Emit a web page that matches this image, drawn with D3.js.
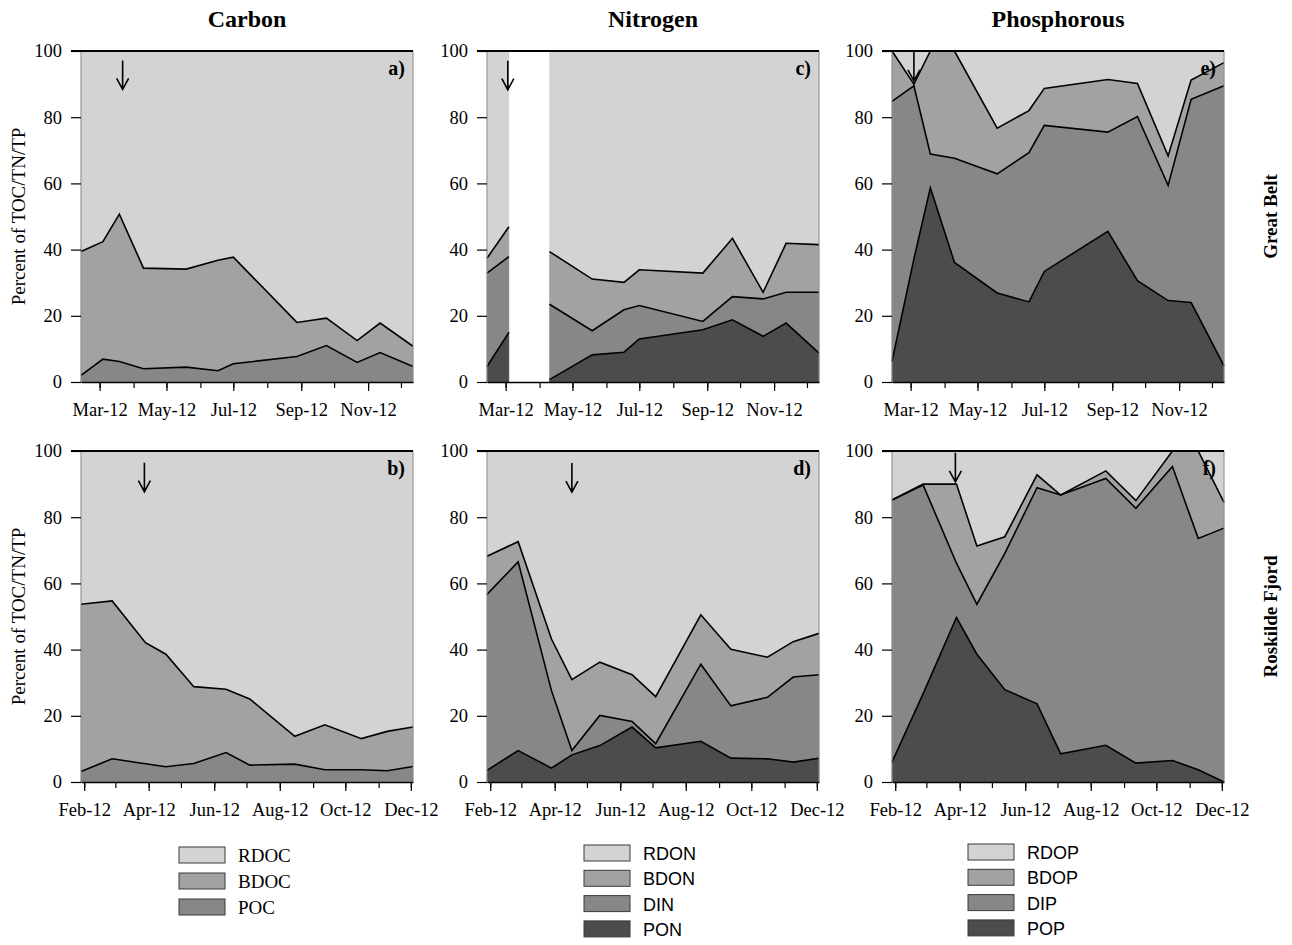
<!DOCTYPE html>
<html>
<head>
<meta charset="utf-8">
<script src="https://cdn.jsdelivr.net/npm/d3@7"></script>
<style>
  body { margin: 0; background: #fff; }
  svg { display: block; }
  .serif { font-family: "Liberation Serif", "Times New Roman", serif; }
  .sans { font-family: "Liberation Sans", Arial, sans-serif; }
</style>
</head>
<body>
<svg id="chart" width="1292" height="945"></svg>
<script>
// ---- Sampling dates -------------------------------------------------------
const greatBeltDates = ["2012-02-13", "2012-03-04", "2012-03-19", "2012-04-10", "2012-05-19", "2012-06-17",
                        "2012-07-01", "2012-08-28", "2012-09-24", "2012-10-22", "2012-11-12", "2012-12-12"];
const roskildeDates  = ["2012-01-29", "2012-02-27", "2012-03-29", "2012-04-17", "2012-05-13", "2012-06-12",
                        "2012-07-04", "2012-08-15", "2012-09-12", "2012-10-16", "2012-11-09", "2012-12-03"];

// ---- Great Belt: percent of TOC / TN / TP --------------------------------
const gbPOC  = [2.0, 6.9, 6.2, 4.0, 4.5, 3.4, 5.5, 7.7, 11.0, 5.9, 8.9, 4.7];
const gbBDOC = [37.4, 35.5, 44.5, 30.4, 29.6, 33.4, 32.2, 10.3, 8.3, 6.6, 8.9, 6.1];
const gbRDOC = [60.6, 57.6, 49.3, 65.6, 65.9, 63.2, 62.3, 82.0, 80.7, 87.5, 82.2, 89.2];

// the 19 March nitrogen sample is missing
const gbPON  = [4.7, 15.0, null, 0.7, 8.2, 9.0, 13.0, 15.8, 18.8, 13.8, 17.8, 8.7];
const gbDIN  = [28.2, 22.9, null, 22.8, 7.3, 12.8, 10.1, 2.5, 7.0, 11.3, 9.3, 18.4];
const gbBDON = [4.5, 9.0, null, 15.9, 15.6, 8.3, 10.8, 14.6, 17.6, 2.0, 14.8, 14.4];
const gbRDON = [62.6, 53.1, null, 60.6, 68.9, 69.9, 66.1, 67.1, 56.6, 72.9, 58.1, 58.5];

const gbPOP  = [6.2, 37.2, 58.7, 36.1, 26.9, 24.2, 33.4, 45.5, 30.6, 24.6, 24.0, 4.9];
const gbDIP  = [78.6, 52.3, 10.2, 31.5, 36.0, 45.1, 44.1, 30.0, 49.6, 34.8, 61.4, 84.6];
const gbBDOP = [15.2, 0.5, 31.1, 32.4, 13.8, 12.7, 11.2, 15.9, 10.0, 8.9, 5.8, 7.0];
const gbRDOP = [0.0, 10.0, 0.0, 0.0, 23.3, 18.0, 11.3, 8.6, 9.8, 31.7, 8.8, 3.5];

// ---- Roskilde Fjord -------------------------------------------------------
const rfPOC  = [3.2, 7.0, 5.5, 4.6, 5.6, 8.9, 5.1, 5.4, 3.7, 3.7, 3.4, 4.7];
const rfBDOC = [50.5, 47.7, 36.6, 34.0, 23.2, 19.1, 20.0, 8.4, 13.6, 9.4, 11.9, 11.9];
const rfRDOC = [46.3, 45.3, 57.9, 61.4, 71.2, 72.0, 74.9, 86.2, 82.7, 86.9, 84.7, 83.4];

const rfPON  = [3.5, 9.5, 4.2, 8.2, 11.0, 16.6, 10.3, 12.3, 7.2, 7.0, 6.0, 7.2];
const rfDIN  = [53.2, 57.0, 23.4, 1.3, 9.1, 1.7, 1.3, 23.3, 15.8, 18.6, 25.7, 25.2];
const rfBDON = [11.5, 6.1, 15.6, 21.4, 16.1, 14.1, 14.2, 14.9, 17.1, 12.1, 10.7, 12.5];
const rfRDON = [31.8, 27.4, 56.8, 69.1, 63.8, 67.6, 74.2, 49.5, 59.9, 62.3, 57.6, 55.1];

const rfPOP  = [6.0, 26.7, 49.7, 38.6, 27.9, 23.6, 8.5, 11.1, 5.7, 6.5, 3.7, 0.0];
const rfDIP  = [79.2, 63.0, 16.4, 15.1, 41.2, 65.3, 78.2, 80.6, 77.0, 88.8, 69.9, 76.7];
const rfBDOP = [0.0, 0.3, 23.9, 17.6, 5.0, 3.9, 0.0, 2.3, 2.3, 4.7, 26.4, 7.8];
const rfRDOP = [14.8, 10.0, 10.0, 28.7, 25.9, 7.2, 13.3, 6.0, 15.0, 0.0, 0.0, 15.5];

// ---- Event markers (date, percent value at arrow tip) ----------------------
const arrowDates = { a: "2012-03-22", c: "2012-03-03", e: "2012-03-04", b: "2012-03-28", d: "2012-04-17", f: "2012-03-28" };
const arrowTips  = { a: 88.4, c: 88.3, e: 91.0, b: 87.7, d: 87.6, f: 90.7 };

// ---- Labels -----------------------------------------------------------------
const columnTitles = ["Carbon", "Nitrogen", "Phosphorous"];
const rowTitles = ["Great Belt", "Roskilde Fjord"];
const yTicks = [0, 20, 40, 60, 80, 100];
const carbonLegend = ["RDOC", "BDOC", "POC"];
const nitrogenLegend = ["RDON", "BDON", "DIN", "PON"];
const phosphorusLegend = ["RDOP", "BDOP", "DIP", "POP"];

// ---- Styling ------------------------------------------------------------------
const shade = { rd: "#d3d3d3", bd: "#a2a2a2", inorg: "#878787", part: "#4c4c4c" };
const colX = [81, 487, 892];
const rowY = [51, 451];
const panelW = 332, panelH = 331;
const serifFamily = "'Liberation Serif','Times New Roman',serif";

const parse = d3.timeParse("%Y-%m-%d");
const fmt = d3.timeFormat("%b-%y");
const svg = d3.select("#chart");

const panels = [
  { id: "a", col: 0, row: 0, dates: greatBeltDates,
    series: [["POC", gbPOC, shade.inorg], ["BDOC", gbBDOC, shade.bd], ["RDOC", gbRDOC, shade.rd]] },
  { id: "c", col: 1, row: 0, dates: greatBeltDates,
    series: [["PON", gbPON, shade.part], ["DIN", gbDIN, shade.inorg], ["BDON", gbBDON, shade.bd], ["RDON", gbRDON, shade.rd]] },
  { id: "e", col: 2, row: 0, dates: greatBeltDates,
    series: [["POP", gbPOP, shade.part], ["DIP", gbDIP, shade.inorg], ["BDOP", gbBDOP, shade.bd], ["RDOP", gbRDOP, shade.rd]] },
  { id: "b", col: 0, row: 1, dates: roskildeDates,
    series: [["POC", rfPOC, shade.inorg], ["BDOC", rfBDOC, shade.bd], ["RDOC", rfRDOC, shade.rd]] },
  { id: "d", col: 1, row: 1, dates: roskildeDates,
    series: [["PON", rfPON, shade.part], ["DIN", rfDIN, shade.inorg], ["BDON", rfBDON, shade.bd], ["RDON", rfRDON, shade.rd]] },
  { id: "f", col: 2, row: 1, dates: roskildeDates,
    series: [["POP", rfPOP, shade.part], ["DIP", rfDIP, shade.inorg], ["BDOP", rfBDOP, shade.bd], ["RDOP", rfRDOP, shade.rd]] }
];

panels.forEach(p => {
  const dates = p.dates.map(parse);
  const keys = p.series.map(s => s[0]);
  const rows = dates.map((d, i) => {
    const r = { date: d };
    p.series.forEach(s => { r[s[0]] = s[1][i]; });
    return r;
  });

  const x = d3.scaleTime().domain(d3.extent(dates)).range([0, panelW]);
  const y = d3.scaleLinear().domain([0, 100]).range([panelH, 0]);

  const stacked = d3.stack().keys(keys)
    .value((d, k) => d[k] == null ? NaN : d[k])(rows);

  const g = svg.append("g").attr("transform", `translate(${colX[p.col]},${rowY[p.row]})`);

  const area = d3.area()
    .defined(d => !isNaN(d[1]))
    .x(d => x(d.data.date)).y0(d => y(d[0])).y1(d => y(d[1]));
  const edge = d3.line()
    .defined(d => !isNaN(d[1]))
    .x(d => x(d.data.date)).y(d => y(d[1]));

  g.selectAll("path.area").data(stacked).join("path")
    .attr("class", "area")
    .attr("d", area)
    .attr("fill", (s, i) => p.series[i][2])
    .attr("stroke", (s, i) => p.series[i][2])
    .attr("stroke-width", 0.5);

  g.selectAll("path.edge").data(stacked.slice(0, -1)).join("path")
    .attr("class", "edge")
    .attr("d", edge)
    .attr("fill", "none")
    .attr("stroke", "#000")
    .attr("stroke-width", 1.6)
    .attr("stroke-linejoin", "miter");

  // side frame
  g.append("line").attr("x1", 0).attr("x2", 0).attr("y1", y(100)).attr("y2", y(0))
    .attr("stroke", "#8c8c8c").attr("stroke-width", 1);
  g.append("line").attr("x1", panelW).attr("x2", panelW).attr("y1", y(100)).attr("y2", y(0))
    .attr("stroke", "#8c8c8c").attr("stroke-width", 1);

  // y axis
  const ya = g.append("g").attr("class", "serif")
    .call(d3.axisLeft(y).tickValues(yTicks).tickSize(10).tickPadding(9).tickSizeOuter(0));
  ya.select(".domain").remove();
  ya.selectAll(".tick line").attr("stroke", "#000").attr("stroke-width", 1.2);
  ya.selectAll(".tick text").attr("font-size", 18.5).attr("fill", "#000")
    .attr("font-family", serifFamily);

  // top line at 100 %
  g.append("line").attr("x1", -10).attr("x2", panelW).attr("y1", y(100)).attr("y2", y(100))
    .attr("stroke", "#000").attr("stroke-width", 1.8);

  // x axis: monthly minor ticks, labels every second month
  const months = d3.timeMonth.range(d3.timeMonth.ceil(x.domain()[0]), x.domain()[1]);
  const labelled = months.filter((m, i) => i % 2 === 0);
  const xa = g.append("g").attr("transform", `translate(0,${panelH})`)
    .call(d3.axisBottom(x).tickValues(months).tickFormat("").tickSize(6).tickSizeOuter(0));
  xa.select(".domain").attr("stroke", "#000").attr("stroke-width", 1.6);
  xa.selectAll(".tick line").attr("stroke", "#000").attr("stroke-width", 1.2);
  const xl = g.append("g").attr("transform", `translate(0,${panelH})`)
    .call(d3.axisBottom(x).tickValues(labelled).tickFormat(fmt).tickSize(9).tickPadding(12));
  xl.select(".domain").remove();
  xl.selectAll(".tick line").attr("stroke", "#000").attr("stroke-width", 1.2);
  xl.selectAll(".tick text").attr("font-size", 18.5).attr("fill", "#000")
    .attr("font-family", serifFamily);

  // event arrow
  const ax = x(parse(arrowDates[p.id]));
  const ay = y(arrowTips[p.id]);
  g.append("path")
    .attr("d", `M${ax},${ay - 29}L${ax},${ay}M${ax - 6},${ay - 11}L${ax},${ay}L${ax + 6},${ay - 11}`)
    .attr("fill", "none").attr("stroke", "#000").attr("stroke-width", 1.6);

  // panel letter
  g.append("text").attr("class", "serif")
    .attr("x", panelW - 8).attr("y", 24)
    .attr("text-anchor", "end").attr("font-size", 20).attr("font-weight", "bold")
    .text(p.id + ")");
});

// column titles
columnTitles.forEach((t, i) => {
  svg.append("text").attr("class", "serif")
    .attr("x", colX[i] + panelW / 2).attr("y", 27)
    .attr("text-anchor", "middle").attr("font-size", 24).attr("font-weight", "bold")
    .text(t);
});

// row titles
rowTitles.forEach((t, i) => {
  svg.append("text").attr("class", "serif")
    .attr("transform", `translate(1277,${rowY[i] + panelH / 2}) rotate(-90)`)
    .attr("text-anchor", "middle").attr("font-size", 19).attr("font-weight", "bold")
    .text(t);
});

// y axis titles
rowY.forEach(ry => {
  svg.append("text").attr("class", "serif")
    .attr("transform", `translate(25,${ry + panelH / 2}) rotate(-90)`)
    .attr("text-anchor", "middle").attr("font-size", 19)
    .text("Percent of TOC/TN/TP");
});

// legends
const legendColours = {
  RDOC: shade.rd, BDOC: shade.bd, POC: shade.inorg,
  RDON: shade.rd, BDON: shade.bd, DIN: shade.inorg, PON: shade.part,
  RDOP: shade.rd, BDOP: shade.bd, DIP: shade.inorg, POP: shade.part
};
function legend(items, x0, y0, step, cls, size) {
  const lg = svg.append("g").attr("transform", `translate(${x0},${y0})`);
  items.forEach((k, i) => {
    lg.append("rect").attr("x", 0).attr("y", i * step).attr("width", 46).attr("height", 16)
      .attr("fill", legendColours[k]).attr("stroke", "#3a3a3a").attr("stroke-width", 1);
    lg.append("text").attr("class", cls).attr("x", 59).attr("y", i * step + 15)
      .attr("font-size", size).text(k);
  });
}
legend(carbonLegend, 179, 847, 26, "serif", 19);
legend(nitrogenLegend, 584, 845, 25.3, "sans", 18);
legend(phosphorusLegend, 968, 844, 25.3, "sans", 18);
</script>
</body>
</html>
